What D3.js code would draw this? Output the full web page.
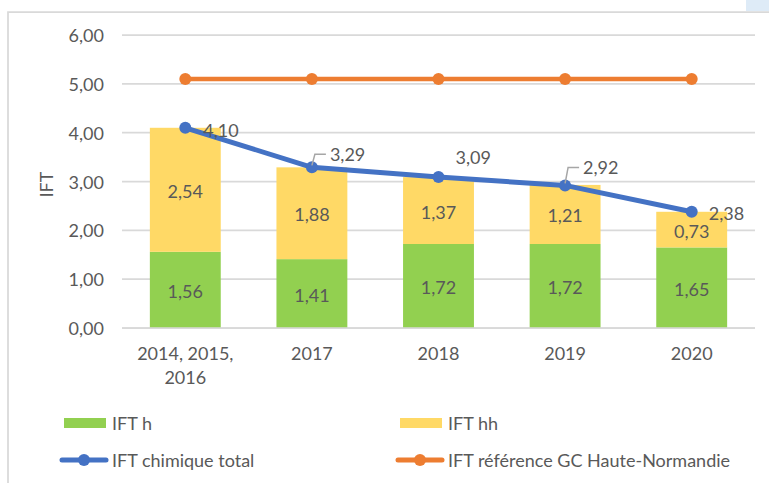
<!DOCTYPE html>
<html>
<head>
<meta charset="utf-8">
<script src="https://cdn.jsdelivr.net/npm/d3@7"></script>
<style>
  html, body { margin: 0; padding: 0; background: #fff; }
  svg { display: block; font-family: Lato, "Open Sans", sans-serif; }
</style>
</head>
<body>
<svg id="chart" width="769" height="483"></svg>
<script>
// ---- Data ----
const categories = ["2014, 2015, 2016", "2017", "2018", "2019", "2020"];
const categoryLines = [["2014, 2015,", "2016"], ["2017"], ["2018"], ["2019"], ["2020"]];
const iftH = [1.56, 1.41, 1.72, 1.72, 1.65];
const iftHH = [2.54, 1.88, 1.37, 1.21, 0.73];
const iftTotal = [4.10, 3.29, 3.09, 2.92, 2.38];
const iftRef = [5.1, 5.1, 5.1, 5.1, 5.1];
const yTicks = [0, 1, 2, 3, 4, 5, 6];
const seriesNames = ["IFT h", "IFT hh", "IFT chimique total", "IFT référence GC Haute-Normandie"];

// ---- Styling ----
const colors = { h: "#92D050", hh: "#FFD966", total: "#4472C4", ref: "#ED7D31", grid: "#D9D9D9", text: "#595959", leader: "#A6A6A6" };
const fontSize = 18;
// label offsets for the total line labels (dx from point, dy of text centre from point, leader?)
const totalLabelOffsets = [
  { dx: 18, dy: 2, leader: false },
  { dx: 18, dy: -13, leader: true },
  { dx: 17, dy: -20, leader: false },
  { dx: 18, dy: -18, leader: true },
  { dx: 17, dy: 1, leader: false }
];

const svg = d3.select("#chart");
const loc = d3.formatLocale({ decimal: ",", thousands: " ", grouping: [3], currency: ["", "€"] });
const fmt = loc.format(".2f");

// frame
svg.append("rect").attr("x", 746).attr("y", 0).attr("width", 23).attr("height", 11).attr("fill", "#DEEBF7");
svg.append("path").attr("d", "M8,483 V12 H769").attr("fill", "none").attr("stroke", colors.grid).attr("stroke-width", 1.75);

const x = d3.scaleBand().domain(categories).range([122, 755]).paddingInner(0.44).paddingOuter(0.22);
const y = d3.scaleLinear().domain([0, 6]).range([328, 35]);

// gridlines
svg.append("g").selectAll("line").data(yTicks).join("line")
  .attr("x1", 122).attr("x2", 755)
  .attr("y1", d => y(d)).attr("y2", d => y(d))
  .attr("stroke", colors.grid).attr("stroke-width", 1.75);

// y tick labels
svg.append("g").selectAll("text").data(yTicks).join("text")
  .attr("x", 104).attr("y", d => y(d))
  .attr("text-anchor", "end").attr("dominant-baseline", "central")
  .attr("fill", colors.text).attr("font-size", fontSize)
  .text(d => fmt(d));

// y axis title
svg.append("text").attr("transform", `translate(46,${(y(0) + y(6)) / 2 + 3}) rotate(-90)`)
  .attr("text-anchor", "middle").attr("dominant-baseline", "central")
  .attr("fill", colors.text).attr("font-size", fontSize).text("IFT");

// x labels
categories.forEach((c, i) => {
  const t = svg.append("text").attr("x", x(c) + x.bandwidth() / 2).attr("y", 353)
    .attr("text-anchor", "middle").attr("dominant-baseline", "central")
    .attr("fill", colors.text).attr("font-size", fontSize);
  categoryLines[i].forEach((ln, j) => {
    t.append("tspan").attr("x", x(c) + x.bandwidth() / 2).attr("dy", j === 0 ? 0 : 24).text(ln);
  });
});

// stacked bars
const gBars = svg.append("g");
categories.forEach((c, i) => {
  gBars.append("rect").attr("x", x(c)).attr("width", x.bandwidth())
    .attr("y", y(iftH[i])).attr("height", y(0) - y(iftH[i])).attr("fill", colors.h);
  gBars.append("rect").attr("x", x(c)).attr("width", x.bandwidth())
    .attr("y", y(iftH[i] + iftHH[i])).attr("height", y(iftH[i]) - y(iftH[i] + iftHH[i])).attr("fill", colors.hh);
});
// redraw baseline above bars
svg.append("line").attr("x1", 122).attr("x2", 755).attr("y1", y(0)).attr("y2", y(0))
  .attr("stroke", colors.grid).attr("stroke-width", 1.75);

// bar labels
categories.forEach((c, i) => {
  const cx = x(c) + x.bandwidth() / 2;
  svg.append("text").attr("x", cx).attr("y", (y(0) + y(iftH[i])) / 2 + 1)
    .attr("text-anchor", "middle").attr("dominant-baseline", "central")
    .attr("fill", colors.text).attr("font-size", fontSize).text(fmt(iftH[i]));
  svg.append("text").attr("x", cx).attr("y", (y(iftH[i]) + y(iftH[i] + iftHH[i])) / 2 + 1)
    .attr("text-anchor", "middle").attr("dominant-baseline", "central")
    .attr("fill", colors.text).attr("font-size", fontSize).text(fmt(iftHH[i]));
});

// lines
const line = d3.line().x((d, i) => x(categories[i]) + x.bandwidth() / 2).y(d => y(d));
svg.append("path").datum(iftRef).attr("d", line).attr("fill", "none")
  .attr("stroke", colors.ref).attr("stroke-width", 4.5).attr("stroke-linejoin", "round");
svg.append("g").selectAll("circle").data(iftRef).join("circle")
  .attr("cx", (d, i) => x(categories[i]) + x.bandwidth() / 2).attr("cy", d => y(d))
  .attr("r", 6).attr("fill", colors.ref);

svg.append("path").datum(iftTotal).attr("d", line).attr("fill", "none")
  .attr("stroke", colors.total).attr("stroke-width", 5).attr("stroke-linejoin", "round");
svg.append("g").selectAll("circle").data(iftTotal).join("circle")
  .attr("cx", (d, i) => x(categories[i]) + x.bandwidth() / 2).attr("cy", d => y(d))
  .attr("r", 6).attr("fill", colors.total);

// total labels
iftTotal.forEach((v, i) => {
  const px = x(categories[i]) + x.bandwidth() / 2, py = y(v);
  const o = totalLabelOffsets[i];
  if (o.leader) {
    const ty = py + o.dy;
    svg.append("path").attr("d", `M${px},${py - 2} L${px + 3},${ty} H${px + o.dx - 4}`)
      .attr("fill", "none").attr("stroke", colors.leader).attr("stroke-width", 1.5);
  }
  svg.append("text").attr("x", px + o.dx).attr("y", py + o.dy)
    .attr("dominant-baseline", "central")
    .attr("fill", colors.text).attr("font-size", fontSize).text(fmt(v));
});

// legend
const legend = svg.append("g");
const legItems = [
  { name: seriesNames[0], type: "rect", color: colors.h, x: 64, y: 423 },
  { name: seriesNames[1], type: "rect", color: colors.hh, x: 400, y: 423 },
  { name: seriesNames[2], type: "line", color: colors.total, x: 62, y: 460 },
  { name: seriesNames[3], type: "line", color: colors.ref, x: 398, y: 460 }
];
legItems.forEach(it => {
  if (it.type === "rect") {
    legend.append("rect").attr("x", it.x).attr("y", it.y - 5).attr("width", 42).attr("height", 10).attr("fill", it.color);
  } else {
    legend.append("line").attr("x1", it.x).attr("x2", it.x + 44).attr("y1", it.y).attr("y2", it.y)
      .attr("stroke", it.color).attr("stroke-width", 5).attr("stroke-linecap", "round");
    legend.append("circle").attr("cx", it.x + 22).attr("cy", it.y).attr("r", 6).attr("fill", it.color);
  }
  legend.append("text").attr("x", (it.type === "rect" ? it.x + 48 : it.x + 50)).attr("y", it.y)
    .attr("dominant-baseline", "central").attr("fill", colors.text).attr("font-size", fontSize).text(it.name);
});
</script>
</body>
</html>
